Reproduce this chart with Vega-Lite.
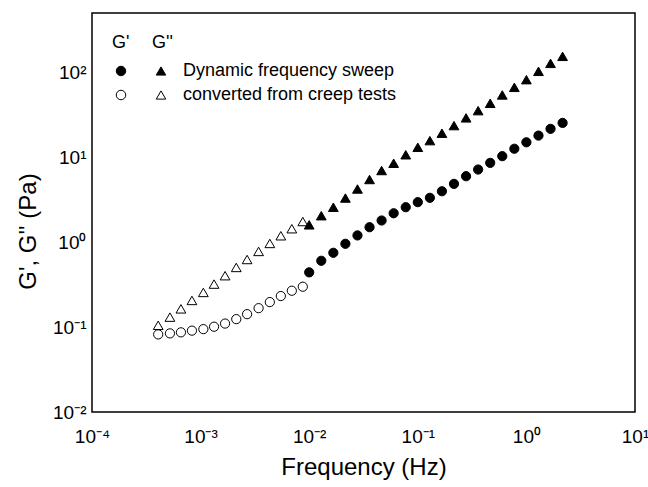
{
  "$schema": "https://vega.github.io/schema/vega-lite/v6.json",
  "autosize": {"type": "none"},
  "padding": {"left": 92, "top": 13, "right": 13, "bottom": 75},
  "width": 543,
  "height": 399,
  "background": "white",
  "config": {
    "view": {"stroke": "black", "strokeWidth": 1.5},
    "axis": {
      "grid": false,
      "domain": false,
      "ticks": false,
      "labelFont": "Liberation Sans",
      "labelFontSize": 19,
      "labelColor": "black",
      "titleFont": "Liberation Sans",
      "titleFontSize": 24,
      "titleFontWeight": "normal",
      "titleColor": "black",
      "labelOverlap": false,
      "labelFlush": false,
      "labelBound": false
    },
    "legend": {
      "titleFont": "Liberation Sans",
      "titleFontSize": 18,
      "titleFontWeight": "normal",
      "titleColor": "black",
      "labelFont": "Liberation Sans",
      "labelFontSize": 18,
      "labelColor": "black",
      "labelLimit": 0,
      "symbolStrokeColor": "black",
      "symbolStrokeWidth": 1
    }
  },
  "datasets": {
    "pts": [
      {"f": 0.000407, "g": 0.082, "mod": "G'", "src": "converted from creep tests"},
      {"f": 0.000522, "g": 0.0843, "mod": "G'", "src": "converted from creep tests"},
      {"f": 0.000659, "g": 0.0867, "mod": "G'", "src": "converted from creep tests"},
      {"f": 0.000832, "g": 0.0908, "mod": "G'", "src": "converted from creep tests"},
      {"f": 0.00106, "g": 0.0946, "mod": "G'", "src": "converted from creep tests"},
      {"f": 0.00133, "g": 0.101, "mod": "G'", "src": "converted from creep tests"},
      {"f": 0.00168, "g": 0.11, "mod": "G'", "src": "converted from creep tests"},
      {"f": 0.00213, "g": 0.124, "mod": "G'", "src": "converted from creep tests"},
      {"f": 0.00268, "g": 0.142, "mod": "G'", "src": "converted from creep tests"},
      {"f": 0.00342, "g": 0.167, "mod": "G'", "src": "converted from creep tests"},
      {"f": 0.00434, "g": 0.197, "mod": "G'", "src": "converted from creep tests"},
      {"f": 0.00548, "g": 0.232, "mod": "G'", "src": "converted from creep tests"},
      {"f": 0.00692, "g": 0.268, "mod": "G'", "src": "converted from creep tests"},
      {"f": 0.00873, "g": 0.299, "mod": "G'", "src": "converted from creep tests"},
      {"f": 0.000407, "g": 0.105, "mod": "G''", "src": "converted from creep tests"},
      {"f": 0.000522, "g": 0.131, "mod": "G''", "src": "converted from creep tests"},
      {"f": 0.000659, "g": 0.164, "mod": "G''", "src": "converted from creep tests"},
      {"f": 0.000832, "g": 0.206, "mod": "G''", "src": "converted from creep tests"},
      {"f": 0.00106, "g": 0.256, "mod": "G''", "src": "converted from creep tests"},
      {"f": 0.00133, "g": 0.321, "mod": "G''", "src": "converted from creep tests"},
      {"f": 0.00168, "g": 0.403, "mod": "G''", "src": "converted from creep tests"},
      {"f": 0.00213, "g": 0.504, "mod": "G''", "src": "converted from creep tests"},
      {"f": 0.00268, "g": 0.625, "mod": "G''", "src": "converted from creep tests"},
      {"f": 0.00342, "g": 0.778, "mod": "G''", "src": "converted from creep tests"},
      {"f": 0.00434, "g": 0.966, "mod": "G''", "src": "converted from creep tests"},
      {"f": 0.00548, "g": 1.19, "mod": "G''", "src": "converted from creep tests"},
      {"f": 0.00692, "g": 1.44, "mod": "G''", "src": "converted from creep tests"},
      {"f": 0.00873, "g": 1.75, "mod": "G''", "src": "converted from creep tests"},
      {"f": 0.01, "g": 0.441, "mod": "G'", "src": "Dynamic frequency sweep"},
      {"f": 0.01292, "g": 0.604, "mod": "G'", "src": "Dynamic frequency sweep"},
      {"f": 0.01668, "g": 0.75, "mod": "G'", "src": "Dynamic frequency sweep"},
      {"f": 0.02154, "g": 0.957, "mod": "G'", "src": "Dynamic frequency sweep"},
      {"f": 0.02783, "g": 1.2, "mod": "G'", "src": "Dynamic frequency sweep"},
      {"f": 0.03594, "g": 1.5, "mod": "G'", "src": "Dynamic frequency sweep"},
      {"f": 0.04642, "g": 1.8, "mod": "G'", "src": "Dynamic frequency sweep"},
      {"f": 0.05995, "g": 2.19, "mod": "G'", "src": "Dynamic frequency sweep"},
      {"f": 0.07743, "g": 2.58, "mod": "G'", "src": "Dynamic frequency sweep"},
      {"f": 0.1, "g": 2.96, "mod": "G'", "src": "Dynamic frequency sweep"},
      {"f": 0.1292, "g": 3.33, "mod": "G'", "src": "Dynamic frequency sweep"},
      {"f": 0.1668, "g": 3.98, "mod": "G'", "src": "Dynamic frequency sweep"},
      {"f": 0.2154, "g": 4.86, "mod": "G'", "src": "Dynamic frequency sweep"},
      {"f": 0.2783, "g": 5.98, "mod": "G'", "src": "Dynamic frequency sweep"},
      {"f": 0.3594, "g": 7.17, "mod": "G'", "src": "Dynamic frequency sweep"},
      {"f": 0.4642, "g": 8.59, "mod": "G'", "src": "Dynamic frequency sweep"},
      {"f": 0.5995, "g": 10.3, "mod": "G'", "src": "Dynamic frequency sweep"},
      {"f": 0.7743, "g": 12.6, "mod": "G'", "src": "Dynamic frequency sweep"},
      {"f": 1.0, "g": 15.0, "mod": "G'", "src": "Dynamic frequency sweep"},
      {"f": 1.292, "g": 18.0, "mod": "G'", "src": "Dynamic frequency sweep"},
      {"f": 1.668, "g": 21.6, "mod": "G'", "src": "Dynamic frequency sweep"},
      {"f": 2.154, "g": 25.4, "mod": "G'", "src": "Dynamic frequency sweep"},
      {"f": 0.01, "g": 1.6, "mod": "G''", "src": "Dynamic frequency sweep"},
      {"f": 0.01292, "g": 2.05, "mod": "G''", "src": "Dynamic frequency sweep"},
      {"f": 0.01668, "g": 2.58, "mod": "G''", "src": "Dynamic frequency sweep"},
      {"f": 0.02154, "g": 3.31, "mod": "G''", "src": "Dynamic frequency sweep"},
      {"f": 0.02783, "g": 4.23, "mod": "G''", "src": "Dynamic frequency sweep"},
      {"f": 0.03594, "g": 5.47, "mod": "G''", "src": "Dynamic frequency sweep"},
      {"f": 0.04642, "g": 6.98, "mod": "G''", "src": "Dynamic frequency sweep"},
      {"f": 0.05995, "g": 8.5, "mod": "G''", "src": "Dynamic frequency sweep"},
      {"f": 0.07743, "g": 10.7, "mod": "G''", "src": "Dynamic frequency sweep"},
      {"f": 0.1, "g": 13.1, "mod": "G''", "src": "Dynamic frequency sweep"},
      {"f": 0.1292, "g": 15.7, "mod": "G''", "src": "Dynamic frequency sweep"},
      {"f": 0.1668, "g": 19.2, "mod": "G''", "src": "Dynamic frequency sweep"},
      {"f": 0.2154, "g": 23.6, "mod": "G''", "src": "Dynamic frequency sweep"},
      {"f": 0.2783, "g": 29.1, "mod": "G''", "src": "Dynamic frequency sweep"},
      {"f": 0.3594, "g": 35.4, "mod": "G''", "src": "Dynamic frequency sweep"},
      {"f": 0.4642, "g": 43.2, "mod": "G''", "src": "Dynamic frequency sweep"},
      {"f": 0.5995, "g": 54.2, "mod": "G''", "src": "Dynamic frequency sweep"},
      {"f": 0.7743, "g": 66.6, "mod": "G''", "src": "Dynamic frequency sweep"},
      {"f": 1.0, "g": 82.0, "mod": "G''", "src": "Dynamic frequency sweep"},
      {"f": 1.292, "g": 102.8, "mod": "G''", "src": "Dynamic frequency sweep"},
      {"f": 1.668, "g": 127.6, "mod": "G''", "src": "Dynamic frequency sweep"},
      {"f": 2.154, "g": 154.3, "mod": "G''", "src": "Dynamic frequency sweep"}
    ]
  },
  "data": {"name": "pts"},
  "layer": [
    {
      "transform": [{"filter": "datum.mod === \"G'\""}],
      "mark": {"type": "point", "shape": "circle", "filled": true, "stroke": "black", "strokeWidth": 1, "opacity": 1, "size": 85},
      "encoding": {
        "x": {
          "field": "f", "type": "quantitative",
          "scale": {"type": "log", "domain": [0.0001, 10], "nice": false},
          "axis": {
            "orient": "bottom",
            "title": "Frequency (Hz)",
            "titlePadding": 9,
            "values": [0.0001, 0.001, 0.01, 0.1, 1, 10],
            "labelExpr": "'10' + replace(replace(replace(replace(replace(replace('' + round(log(datum.value)/LN10), '-', '⁻'), '0', '⁰'), '1', '¹'), '2', '²'), '3', '³'), '4', '⁴')",
            "labelPadding": 15
          }
        },
        "y": {
          "field": "g", "type": "quantitative",
          "scale": {"type": "log", "domain": [0.01, 500], "nice": false},
          "axis": {
            "orient": "left",
            "title": "G', G'' (Pa)",
            "titlePadding": 12,
            "titleY": 218,
            "values": [0.01, 0.1, 1, 10, 100],
            "labelExpr": "'10' + replace(replace(replace(replace(replace(replace('' + round(log(datum.value)/LN10), '-', '⁻'), '0', '⁰'), '1', '¹'), '2', '²'), '3', '³'), '4', '⁴')",
            "labelPadding": 6
          }
        },
        "fill": {
          "field": "src", "type": "nominal",
          "scale": {"domain": ["Dynamic frequency sweep", "converted from creep tests"], "range": ["black", "white"]},
          "legend": {
            "title": "G'",
            "orient": "none",
            "legendX": 20,
            "legendY": 21,
            "labelExpr": "''",
            "symbolType": "circle",
            "symbolSize": 90,
            "rowPadding": 6,
            "titlePadding": 10
          }
        }
      }
    },
    {
      "transform": [{"filter": "datum.mod === \"G''\""}],
      "mark": {"type": "point", "shape": "triangle-up", "filled": true, "stroke": "black", "strokeWidth": 1, "opacity": 1, "size": 95},
      "encoding": {
        "x": {"field": "f", "type": "quantitative", "scale": {"type": "log", "domain": [0.0001, 10], "nice": false}, "axis": null},
        "y": {"field": "g", "type": "quantitative", "scale": {"type": "log", "domain": [0.01, 500], "nice": false}, "axis": null},
        "fill": {
          "field": "src", "type": "nominal",
          "scale": {"domain": ["Dynamic frequency sweep", "converted from creep tests"], "range": ["black", "white"]},
          "legend": {
            "title": "G''",
            "orient": "none",
            "legendX": 60,
            "legendY": 21,
            "symbolType": "triangle-up",
            "symbolSize": 90,
            "rowPadding": 6,
            "titlePadding": 10,
            "labelOffset": 13
          }
        }
      }
    }
  ],
  "resolve": {
    "axis": {"x": "independent", "y": "independent"},
    "scale": {"fill": "independent"}
  }
}
